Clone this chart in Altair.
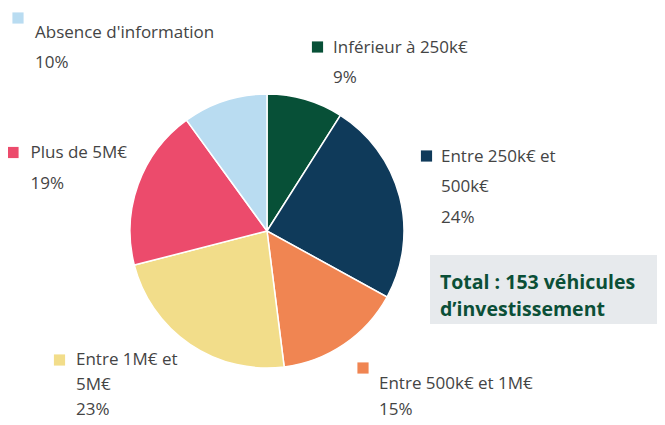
import altair as alt
import pandas as pd

# ---- data ----
categories = ["Inférieur à 250k€", "Entre 250k€ et 500k€", "Entre 500k€ et 1M€",
              "Entre 1M€ et 5M€", "Plus de 5M€", "Absence d'information"]
values = [9, 24, 15, 23, 19, 10]
colors = ["#075037", "#0f3a5a", "#f08552", "#f2dd8a", "#ec4b6c", "#b9dcf1"]
label_lines = [
    ["Inférieur à 250k€", "9%"],
    ["Entre 250k€ et", "500k€", "24%"],
    ["Entre 500k€ et 1M€", "15%"],
    ["Entre 1M€ et", "5M€", "23%"],
    ["Plus de 5M€", "19%"],
    ["Absence d'information", "10%"],
]
total_lines = ["Total : 153 véhicules", "d’investissement"]

# ---- layout (chart pixel coordinates) ----
W, H = 649, 409
CX, CY, R = 259, 223, 137
# square marker centre, text x, first baseline, line spacing
label_pos = [
    ((309.5, 39), 325, 44.5, 30.5),
    ((418.5, 148), 433, 153.5, 30.5),
    ((355, 360), 371, 380.5, 26),
    ((51.5, 352), 68, 357, 25),
    ((5, 144.5), 22.5, 150, 30.5),
    ((10, 10), 27, 29.5, 30.5),
]

pie_df = pd.DataFrame({"cat": categories, "val": values, "idx": list(range(len(values)))})

pie = alt.Chart(pie_df).mark_arc(stroke="white", strokeWidth=1.5, outerRadius=R).encode(
    theta=alt.Theta("val:Q", stack=True),
    order=alt.Order("idx:Q"),
    color=alt.Color("cat:N", scale=alt.Scale(domain=categories, range=colors), legend=None),
    x=alt.value(CX),
    y=alt.value(CY),
)

sq_rows, txt_rows = [], []
for cat, lines, (sq, tx, ty, lh) in zip(categories, label_lines, label_pos):
    sq_rows.append({"cat": cat, "px": sq[0], "py": sq[1]})
    for i, ln in enumerate(lines):
        txt_rows.append({"t": ln, "px": tx, "py": ty + i * lh})
sq_df = pd.DataFrame(sq_rows)
txt_df = pd.DataFrame(txt_rows)

squares = alt.Chart(sq_df).mark_square(size=125, opacity=1, filled=True).encode(
    x=alt.X("px:Q", scale=None, axis=None),
    y=alt.Y("py:Q", scale=None, axis=None),
    color=alt.Color("cat:N", scale=alt.Scale(domain=categories, range=colors), legend=None),
)

texts = alt.Chart(txt_df).mark_text(
    align="left", baseline="alphabetic", font="Open Sans", fontSize=17, color="#444444"
).encode(
    x=alt.X("px:Q", scale=None, axis=None),
    y=alt.Y("py:Q", scale=None, axis=None),
    text="t:N",
)

box_df = pd.DataFrame({"x": [422], "x2": [W], "y": [247], "y2": [316]})
box = alt.Chart(box_df).mark_rect(color="#e7eaed").encode(
    x=alt.X("x:Q", scale=None, axis=None), x2="x2:Q",
    y=alt.Y("y:Q", scale=None, axis=None), y2="y2:Q",
)

tot_df = pd.DataFrame({"t": total_lines, "px": [432, 432], "py": [280.5, 308]})
total = alt.Chart(tot_df).mark_text(
    align="left", baseline="alphabetic", font="Open Sans", fontSize=19.5,
    fontWeight="bold", color="#0b4f37"
).encode(
    x=alt.X("px:Q", scale=None, axis=None),
    y=alt.Y("py:Q", scale=None, axis=None),
    text="t:N",
)

chart = alt.layer(pie, box, total, squares, texts).properties(
    width=W, height=H, padding=0, autosize="none"
).configure_view(stroke=None)

chart.save("out.html", embed_options={"renderer": "svg", "actions": False})
